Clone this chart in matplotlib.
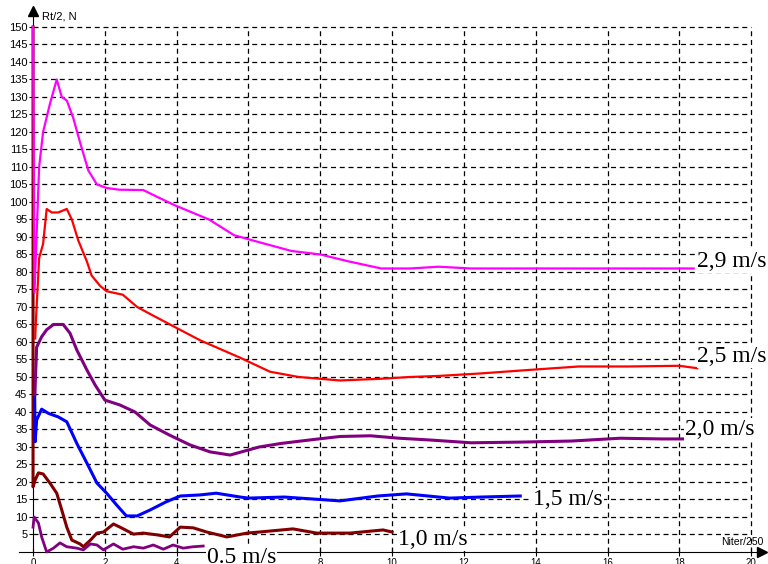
import numpy as np
import matplotlib.pyplot as plt

# resistance curves, Rt/2 [N] vs Niter/250, one per towing speed
x29 = [0, 0.04, 0.17, 0.28, 0.47, 0.66, 0.8, 0.94, 1.12, 1.31, 1.54, 1.78, 2.05, 2.4, 3.07, 3.45,
       3.96, 4.9, 5.6, 6.3, 7.2, 8.0, 8.8, 9.7, 10.5, 11.3, 12.2, 15.8, 18.4]
y29 = [150, 74, 110, 120, 128, 135, 130, 129, 124, 117, 109, 105, 104, 103.5, 103.4, 101.5,
       99, 95, 90.5, 88.5, 86, 85, 83, 81, 81, 81.5, 81, 81, 81]

x25 = [0.06, 0.08, 0.17, 0.28, 0.38, 0.52, 0.7, 0.94, 1.08, 1.26, 1.5, 1.63, 1.87, 2.05, 2.5, 2.9,
       3.26, 4.0, 4.65, 5.77, 6.6, 7.4, 8.55, 9.7, 10.5, 11.3, 12.45, 13.8, 15.2, 16.6, 18.0, 18.5]
y25 = [61, 66, 84, 88, 98, 97, 97, 98, 95, 89, 83, 79, 76, 74.5, 73.5, 70,
       68, 64, 60.5, 55.5, 51.5, 50, 49, 49.5, 50, 50.3, 51, 52, 53, 53, 53.2, 52.5]

x20 = [0.05, 0.1, 0.24, 0.38, 0.57, 0.84, 1.03, 1.22, 1.5, 1.73, 2.0, 2.42, 2.84, 3.26, 3.8,
       4.37, 4.93, 5.49, 6.3, 6.9, 7.7, 8.55, 9.4, 10.2, 11.05, 12.2, 13.6, 15.0, 16.35, 17.5, 18.1]
y20 = [45, 58.5, 61.5, 63.5, 65, 65, 62.5, 57.7, 52, 47.7, 43.4, 42, 40, 36.3, 33.4,
       30.6, 28.6, 27.7, 30, 31, 32, 33, 33.2, 32.5, 32, 31.2, 31.4, 31.7, 32.5, 32.3, 32.3]

x15 = [0.04, 0.06, 0.1, 0.24, 0.43, 0.7, 0.94, 1.22, 1.5, 1.78, 2.05, 2.33, 2.6, 2.9, 3.26, 3.7,
       4.1, 4.65, 5.1, 5.77, 6.0, 7.0, 8.55, 9.6, 10.4, 11.6, 12.5, 13.57]
y15 = [50, 31.5, 37.7, 40.8, 39.6, 38.6, 37.2, 31, 25.4, 19.7, 16.8, 13.4, 10.3, 10.3, 12, 14.3,
       16, 16.3, 16.8, 15.7, 15.4, 15.7, 14.6, 16, 16.6, 15.4, 15.7, 16]

x10 = [0, 0, 0.06, 0.15, 0.28, 0.47, 0.66, 0.8, 0.94, 1.08, 1.31, 1.4, 1.6, 1.78, 1.96, 2.24,
       2.42, 2.8, 3.07, 3.45, 3.8, 4.1, 4.46, 4.84, 5.4, 5.96, 6.3, 7.24, 7.9, 8.83, 9.75, 10.0]
y10 = [150, 18.6, 20.6, 22.6, 22.3, 19.7, 16.8, 12, 7.1, 3.4, 2.3, 1.5, 3.4, 5.4, 5.7, 8,
       7.1, 5.1, 5.4, 4.9, 4.3, 7.1, 6.9, 5.7, 4.3, 5.4, 5.7, 6.6, 5.4, 5.4, 6.3, 5.7]

x05 = [0, 0.03, 0.15, 0.24, 0.38, 0.57, 0.75, 0.94, 1.22, 1.4, 1.6, 1.78, 1.96, 2.24, 2.5,
       2.8, 3.07, 3.35, 3.63, 3.9, 4.18, 4.46, 4.74]
y05 = [7.1, 10, 8.3, 4.3, 0, 1.1, 2.6, 1.5, 1.1, 0.6, 2.3, 2, 0.6, 2.3, 0.8,
       1.5, 1.1, 2, 0.8, 2, 1.1, 1.5, 1.7]

series = [
    (x10, y10, "#800000", 2.2, "1,0 m/s", (10.17, 2.0)),
    (x05, y05, "#800080", 2.0, "0.5 m/s", (4.85, -3.1)),
    (x15, y15, "#0000ff", 2.2, "1,5 m/s", (13.93, 13.4)),
    (x20, y20, "#800080", 2.2, "2,0 m/s", (18.15, 33.4)),
    (x25, y25, "#ff0000", 1.6, "2,5 m/s", (18.5, 54.3)),
    (x29, y29, "#ff00ff", 1.6, "2,9 m/s", (18.5, 81.4)),
]

xticks = np.arange(0, 21, 2)
yticks = np.arange(5, 151, 5)

fig = plt.figure(figsize=(7.68, 5.64), dpi=100)
ax = fig.add_axes([0, 0, 1, 1])
ax.set_xlim(-0.92, 20.47)
ax.set_ylim(-3.43, 157.7)

# dashed grid only inside the 0..20 x 0..150 box
ax.hlines(yticks, 0, 20, colors="k", linestyles=(0, (4, 3)), linewidth=0.9, zorder=1)
ax.vlines(xticks[1:], 0, 150, colors="k", linestyles=(0, (4, 3)), linewidth=0.9, zorder=1)

for xs, ys, col, lw, lab, pos in series:
    ax.plot(xs, ys, color=col, lw=lw, zorder=3, solid_joinstyle="round")
    ax.text(pos[0], pos[1], lab, fontsize=17, family="Liberation Serif", va="baseline",
            ha="left", zorder=4,
            bbox=dict(facecolor="white", edgecolor="none", pad=0.5))

# axes drawn as arrows through the origin
for s in ("top", "right"):
    ax.spines[s].set_visible(False)
ax.spines["left"].set_position(("data", 0))
ax.spines["bottom"].set_position(("data", 0))
ax.spines["left"].set_bounds(0, 154)
ax.spines["bottom"].set_bounds(-0.4, 20.3)
ax.plot([0], [154.5], marker="^", color="k", markersize=7, clip_on=False, zorder=5)
ax.plot([20.3], [0], marker=">", color="k", markersize=7, clip_on=False, zorder=5)

ax.set_xticks(xticks)
ax.set_yticks(yticks)
ax.tick_params(axis="x", direction="inout", length=6, labelsize=7, pad=1)
ax.tick_params(axis="y", direction="out", length=3, labelsize=8, pad=1)
for lbl in ax.get_xticklabels() + ax.get_yticklabels():
    lbl.set_family("Liberation Sans")

ax.text(0.25, 153, "Rt/2, N", fontsize=8, family="Liberation Sans", va="center")
ax.text(20.35, 2.9, "Niter/250", fontsize=7.5, family="Liberation Sans", ha="right", va="center")

fig.savefig("out.png", dpi=100)
